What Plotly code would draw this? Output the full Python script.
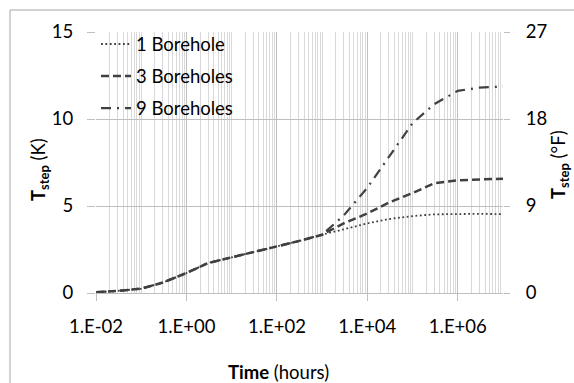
import plotly.graph_objects as go

# ---- data ----
time_hours = [0.01, 0.03, 0.1, 0.3, 1, 3, 10, 30, 100, 300, 1000,
              3000, 1e4, 3e4, 1e5, 3e5, 1e6, 3e6, 1e7]
t_1_borehole = [0.05, 0.12, 0.25, 0.6, 1.15, 1.72, 2.05, 2.35, 2.65, 2.98, 3.35,
                3.65, 4.0, 4.25, 4.42, 4.52, 4.55, 4.55, 4.53]
t_3_boreholes = [0.05, 0.12, 0.25, 0.6, 1.15, 1.72, 2.05, 2.35, 2.65, 2.98, 3.35,
                 4.0, 4.57, 5.2, 5.75, 6.3, 6.48, 6.53, 6.57]
t_9_boreholes = [0.05, 0.12, 0.25, 0.6, 1.15, 1.72, 2.05, 2.35, 2.65, 2.98, 3.35,
                 4.45, 6.05, 7.8, 9.76, 10.85, 11.62, 11.8, 11.87]
series_names = ["1 Borehole", "3 Boreholes", "9 Boreholes"]
x_tickvals = [1e-2, 1e0, 1e2, 1e4, 1e6]
x_ticktext = ["1.E-02", "1.E+00", "1.E+02", "1.E+04", "1.E+06"]
y_tickvals = [0, 5, 10, 15]
y2_tickvals = [0, 9, 18, 27]
K_TO_F = 1.8

minor_vals = [m * 10.0 ** k for k in range(-2, 8) for m in range(1, 10)
              if m * 10.0 ** k <= 1e7 * 1.0001 and (m * 10.0 ** k) not in x_tickvals]

FONT = "Lato, 'Open Sans', sans-serif"
FS = 18.5
LINE = "#404040"
GRID = "#d9d9d9"
GRID2 = "#bfbfbf"

fig = go.Figure()
fig.add_trace(go.Scatter(x=time_hours, y=t_1_borehole, name=series_names[0], mode="lines",
                         legendgroup="a",
                         line=dict(color=LINE, width=1.8, dash="1.8px,2.6px")))
fig.add_trace(go.Scatter(x=time_hours, y=t_3_boreholes, name=series_names[1], mode="lines",
                         legendgroup="b",
                         line=dict(color=LINE, width=2.5, dash="8px,4px")))
fig.add_trace(go.Scatter(x=time_hours, y=t_9_boreholes, name=series_names[2], mode="lines",
                         legendgroup="c",
                         line=dict(color=LINE, width=2.2, dash="10px,6px,2px,6px")))
# invisible trace carrying the secondary (°F) axis
fig.add_trace(go.Scatter(x=time_hours, y=[v * K_TO_F for v in t_9_boreholes], yaxis="y2",
                         mode="lines", line=dict(width=0, color="rgba(0,0,0,0)"),
                         showlegend=False, hoverinfo="skip"))

fig.update_layout(
    width=574, height=383,
    margin=dict(l=96, r=71, t=32, b=90),
    paper_bgcolor="white", plot_bgcolor="white",
    font=dict(family=FONT, size=FS, color="#000000"),
    showlegend=True,
    legend=dict(x=-0.0, y=1.025, xanchor="left", yanchor="top",
                bgcolor="rgba(0,0,0,0)", tracegroupgap=5,
                font=dict(family=FONT, size=FS, color="#000000")),
    xaxis=dict(type="log", range=[-2, 7], tickvals=x_tickvals, ticktext=x_ticktext,
               showgrid=True, gridcolor=GRID2, gridwidth=1,
               ticks="outside", ticklen=7, tickcolor=GRID2,
               showline=True, linecolor=GRID2, linewidth=1,
               ticklabelstandoff=10, zeroline=False,
               minor=dict(tickvals=minor_vals, showgrid=True, gridcolor=GRID, ticks="")),
    yaxis=dict(range=[0, 15], tickvals=y_tickvals, showgrid=True, gridcolor=GRID2,
               ticks="outside", ticklen=8, tickcolor=GRID2, zeroline=False,
               showline=False, ticklabelstandoff=10),
    yaxis2=dict(range=[0, 27], tickvals=y2_tickvals, overlaying="y", side="right",
                showgrid=False, ticks="outside", ticklen=6, tickcolor=GRID2,
                zeroline=False, showline=False, ticklabelstandoff=12),
    annotations=[
        dict(text="<b>Time</b> (hours)", x=(278 - 96) / 407, y=-(372 - 293) / 261,
             xref="paper", yref="paper", showarrow=False, xanchor="center", yanchor="middle",
             font=dict(family=FONT, size=FS)),
        dict(text="<b>T<sub>step</sub></b> (K)", x=-(96 - 39) / 407, y=(293 - 170) / 261,
             xref="paper", yref="paper", showarrow=False, textangle=-90,
             xanchor="center", yanchor="middle", font=dict(family=FONT, size=FS)),
        dict(text="<b>T<sub>step</sub></b> (°F)", x=1 + (559 - 503) / 407, y=(293 - 165) / 261,
             xref="paper", yref="paper", showarrow=False, textangle=-90,
             xanchor="center", yanchor="middle", font=dict(family=FONT, size=FS)),
    ],
    shapes=[dict(type="rect", xref="paper", yref="paper",
                 x0=-(96 - 10) / 407, x1=1.4, y0=-0.6, y1=1 + (32 - 10) / 261,
                 line=dict(color="#a6a6a6", width=1), layer="below")],
)

fig.write_html("out.html")
